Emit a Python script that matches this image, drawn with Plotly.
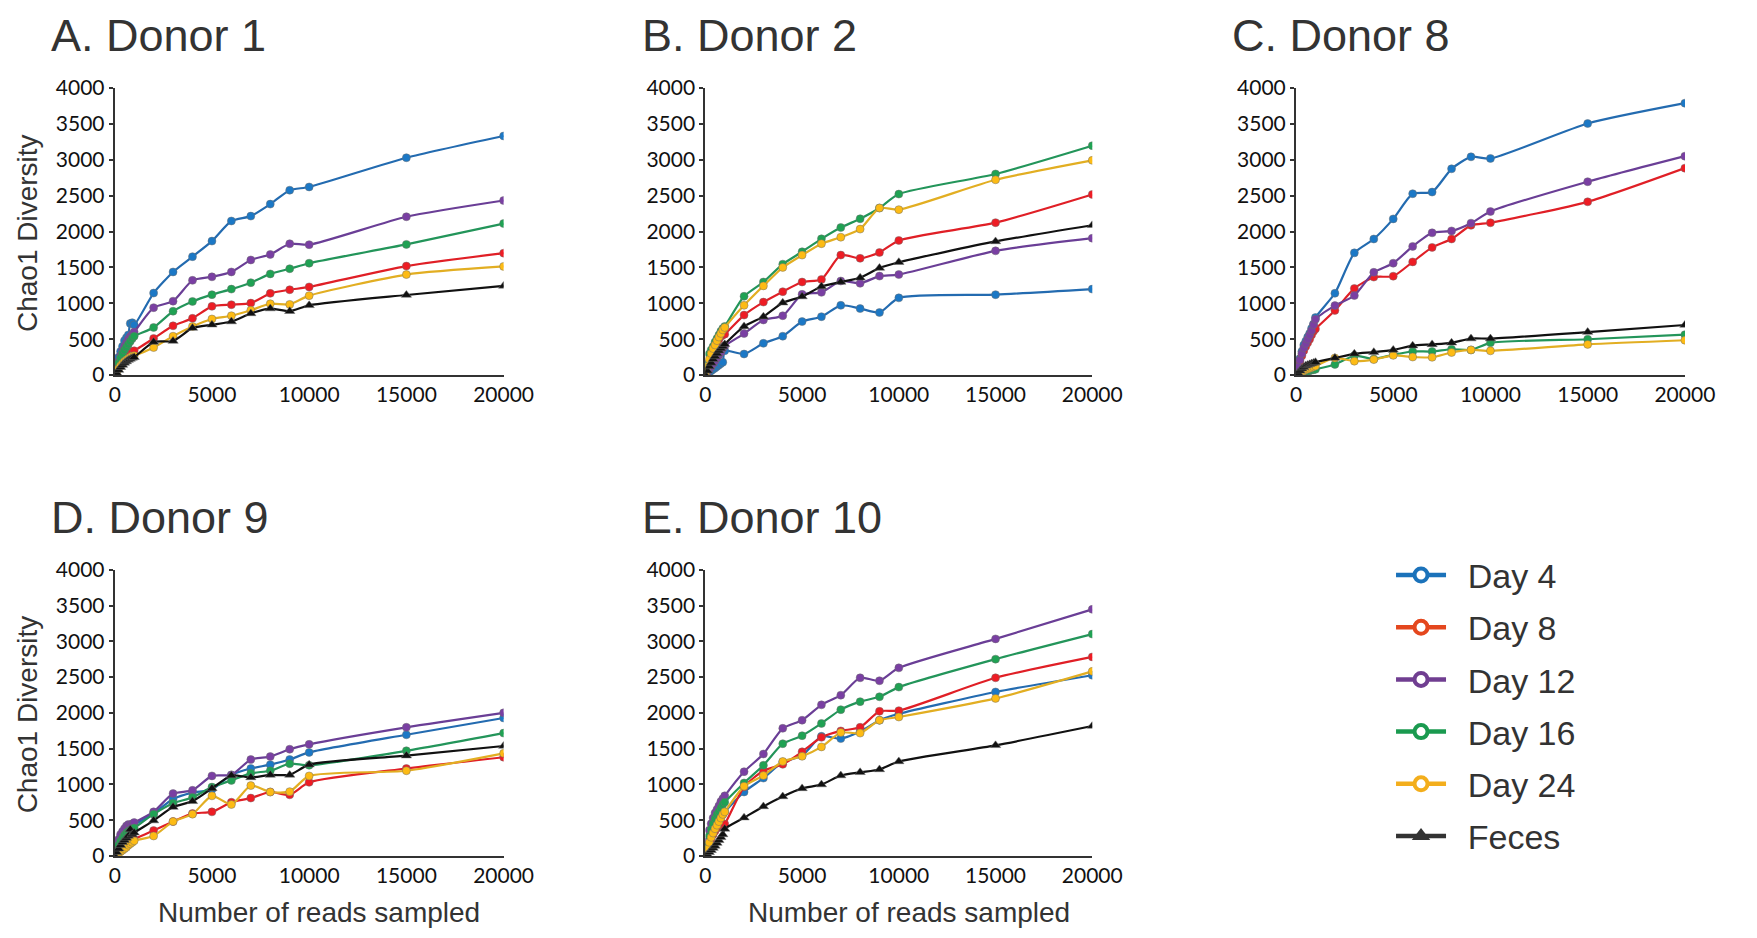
import plotly.graph_objects as go

W, H = 1757, 938

# ---------------- data ----------------
READS = [0, 100, 200, 300, 400, 500, 600, 700, 800, 900, 1000,
         2000, 3000, 4000, 5000, 6000, 7000, 8000, 9000, 10000, 15000, 20000]

SERIES = ["Day 4", "Day 8", "Day 12", "Day 16", "Day 24", "Feces"]

# Donor 1
D1_DAY4 = [0, 140, 250, 330, 400, 480, 520, 560, 720, 730, 700, 1143, 1437, 1650, 1867, 2147, 2215, 2382, 2576, 2621, 3028, 3331]
D1_DAY8 = [0, 60, 110, 160, 200, 240, 270, 290, 310, 330, 339, 511, 687, 791, 958, 981, 1003, 1139, 1189, 1229, 1519, 1699]
D1_DAY12 = [0, 100, 190, 270, 340, 400, 450, 500, 540, 570, 600, 940, 1030, 1320, 1369, 1437, 1604, 1681, 1830, 1817, 2206, 2432]
D1_DAY16 = [0, 90, 170, 240, 300, 350, 390, 430, 470, 510, 542, 664, 890, 1026, 1121, 1198, 1288, 1410, 1482, 1559, 1821, 2111]
D1_DAY24 = [0, 50, 90, 130, 160, 190, 210, 230, 250, 265, 271, 384, 542, 678, 782, 827, 904, 994, 985, 1107, 1401, 1514]
D1_FECES = [0, 30, 70, 110, 140, 170, 190, 210, 225, 240, 249, 461, 475, 655, 701, 746, 859, 927, 890, 972, 1116, 1243]

# Donor 2
D2_DAY4 = [0, 20, 40, 60, 80, 100, 120, 140, 160, 180, 339, 294, 443, 542, 746, 814, 972, 927, 872, 1076, 1121, 1198]
D2_DAY8 = [0, 100, 190, 270, 340, 400, 460, 500, 540, 560, 570, 836, 1017, 1162, 1297, 1333, 1672, 1627, 1708, 1876, 2124, 2517]
D2_DAY12 = [0, 40, 80, 120, 160, 200, 240, 280, 320, 370, 407, 579, 768, 827, 1125, 1153, 1311, 1279, 1379, 1401, 1731, 1907]
D2_DAY16 = [0, 150, 294, 350, 400, 460, 510, 560, 610, 650, 678, 1098, 1297, 1546, 1718, 1898, 2056, 2178, 2328, 2522, 2802, 3196]
D2_DAY24 = [0, 120, 220, 300, 370, 420, 480, 530, 580, 630, 664, 972, 1243, 1500, 1672, 1831, 1921, 2034, 2328, 2305, 2721, 2992]
D2_FECES = [0, 60, 120, 170, 220, 260, 300, 340, 370, 400, 429, 678, 814, 1008, 1094, 1234, 1297, 1356, 1492, 1573, 1862, 2088]

# Donor 8
D8_DAY4 = [0, 120, 230, 330, 420, 473, 530, 580, 650, 712, 802, 1140, 1703, 1896, 2176, 2527, 2550, 2874, 3041, 3018, 3505, 3788]
D8_DAY8 = [0, 100, 190, 270, 340, 400, 450, 500, 560, 610, 644, 901, 1207, 1365, 1378, 1577, 1779, 1896, 2086, 2122, 2414, 2883]
D8_DAY12 = [0, 110, 210, 300, 380, 440, 500, 560, 620, 700, 779, 968, 1108, 1432, 1559, 1793, 1982, 2009, 2117, 2279, 2694, 3050]
D8_DAY16 = [0, 10, 20, 30, 40, 50, 55, 60, 70, 75, 81, 149, 270, 225, 284, 329, 329, 360, 351, 450, 500, 563]
D8_DAY24 = [0, 15, 30, 45, 60, 75, 85, 95, 105, 115, 126, 239, 194, 216, 275, 252, 248, 315, 351, 338, 428, 486]
D8_FECES = [0, 30, 60, 90, 110, 130, 140, 150, 160, 170, 180, 239, 297, 320, 351, 410, 428, 450, 509, 509, 599, 698]

# Donor 9
D9_DAY4 = [0, 100, 190, 260, 310, 350, 380, 400, 410, 420, 436, 593, 796, 885, 930, 1133, 1222, 1276, 1348, 1447, 1694, 1928]
D9_DAY8 = [0, 30, 60, 90, 110, 140, 160, 180, 200, 220, 234, 355, 481, 593, 616, 751, 809, 894, 854, 1029, 1222, 1380]
D9_DAY12 = [0, 120, 230, 300, 340, 380, 420, 440, 430, 450, 467, 616, 872, 917, 1119, 1133, 1348, 1389, 1492, 1560, 1798, 2000]
D9_DAY16 = [0, 80, 150, 210, 250, 290, 320, 340, 360, 375, 391, 584, 737, 818, 962, 1056, 1155, 1191, 1290, 1267, 1470, 1717]
D9_DAY24 = [0, 20, 40, 60, 80, 100, 120, 150, 170, 190, 211, 279, 481, 584, 840, 719, 984, 894, 899, 1119, 1191, 1434]
D9_FECES = [0, 50, 100, 150, 190, 220, 250, 280, 370, 300, 324, 494, 683, 764, 944, 1124, 1097, 1133, 1133, 1276, 1402, 1537]

# Donor 10
D10_DAY4 = [0, 110, 200, 270, 330, 390, 440, 490, 540, 580, 616, 894, 1088, 1312, 1402, 1672, 1640, 1739, 1897, 1987, 2292, 2526]
D10_DAY8 = [0, 90, 170, 240, 300, 350, 390, 420, 440, 430, 445, 966, 1191, 1281, 1456, 1658, 1748, 1798, 2022, 2031, 2490, 2782]
D10_DAY12 = [0, 200, 360, 450, 530, 600, 650, 700, 760, 800, 840, 1178, 1425, 1784, 1897, 2112, 2247, 2490, 2449, 2629, 3034, 3447]
D10_DAY16 = [0, 150, 280, 370, 450, 520, 580, 620, 670, 720, 751, 1020, 1267, 1569, 1681, 1852, 2045, 2157, 2225, 2360, 2751, 3101]
D10_DAY24 = [0, 100, 190, 260, 320, 380, 430, 480, 530, 580, 616, 975, 1124, 1321, 1393, 1524, 1726, 1717, 1897, 1942, 2202, 2580]
D10_FECES = [0, 20, 50, 80, 110, 140, 180, 220, 260, 300, 378, 535, 692, 831, 944, 998, 1124, 1169, 1209, 1321, 1546, 1816]

X_TICKS = [0, 5000, 10000, 15000, 20000]
Y_TICKS = [0, 500, 1000, 1500, 2000, 2500, 3000, 3500, 4000]

PANEL_TITLES = ["A. Donor 1", "B. Donor 2", "C. Donor 8", "D. Donor 9", "E. Donor 10"]
Y_TITLE = "Chao1 Diversity"
X_TITLE = "Number of reads sampled"

PANEL_DATA = [
    [D1_DAY4, D1_DAY8, D1_DAY12, D1_DAY16, D1_DAY24, D1_FECES],
    [D2_DAY4, D2_DAY8, D2_DAY12, D2_DAY16, D2_DAY24, D2_FECES],
    [D8_DAY4, D8_DAY8, D8_DAY12, D8_DAY16, D8_DAY24, D8_FECES],
    [D9_DAY4, D9_DAY8, D9_DAY12, D9_DAY16, D9_DAY24, D9_FECES],
    [D10_DAY4, D10_DAY8, D10_DAY12, D10_DAY16, D10_DAY24, D10_FECES],
]

# ---------------- styles ----------------
LINE_COLORS = ["#236BB0", "#E01F26", "#6A3E96", "#23955A", "#E2AE22", "#111111"]
MARK_COLORS = ["#1B78C6", "#EE1C24", "#7A3FA3", "#1FA253", "#FDBB14", "#111111"]
LEG_COLORS = ["#1B72BA", "#E4471E", "#703E91", "#1A9A4F", "#F3AE1C", "#333333"]

TITLE_FONT = "Liberation Sans, Arial, sans-serif"
TICK_FONT = "Lato, Carlito, sans-serif"
LEG_PAD = '<span style="font-size:30px">&nbsp;&nbsp;</span>'


def px_x(v):
    return v / W


def px_y(v):
    return 1 - v / H


# panel boxes in pixels: (left, right, top, bottom)
COLS = [(111, 508), (714, 1109), (1317, 1714)]
ROWS = [(76, 371), (571, 865)]
BOXES = [(COLS[0], ROWS[0]), (COLS[1], ROWS[0]), (COLS[2], ROWS[0]),
         (COLS[0], ROWS[1]), (COLS[1], ROWS[1])]

fig = go.Figure()
layout = dict(
    width=W, height=H,
    margin=dict(l=0, r=0, t=0, b=0),
    paper_bgcolor="white", plot_bgcolor="white",
    showlegend=True,
)

annotations = []
for i, ((xl, xr), (yt, yb)) in enumerate(BOXES):
    n = i + 1
    xa = "xaxis" if n == 1 else f"xaxis{n}"
    ya = "yaxis" if n == 1 else f"yaxis{n}"
    xref = "x" if n == 1 else f"x{n}"
    yref = "y" if n == 1 else f"y{n}"
    layout[xa] = dict(
        domain=[px_x(xl), px_x(xr)], anchor=yref, range=[0, 20000],
        tickvals=X_TICKS, ticktext=[str(v) for v in X_TICKS],
        showline=True, linecolor="#333333", linewidth=2,
        ticks="", showgrid=False, zeroline=False,
        tickfont=dict(family=TICK_FONT, size=21, color="#111111"),
    )
    layout[ya] = dict(
        domain=[px_y(yb), px_y(yt)], anchor=xref, range=[0, 4000],
        tickvals=Y_TICKS, ticktext=[str(v) for v in Y_TICKS],
        showline=True, linecolor="#333333", linewidth=2,
        ticks="outside", ticklen=4, tickcolor="#333333", tickwidth=1.5,
        showgrid=False, zeroline=False,
        tickfont=dict(family=TICK_FONT, size=21, color="#111111"),
    )
    for s, vals in enumerate(PANEL_DATA[i]):
        is_feces = SERIES[s] == "Feces"
        fig.add_trace(go.Scatter(
            x=READS, y=vals, xaxis=xref, yaxis=yref,
            mode="lines+markers", name=SERIES[s], showlegend=False,
            line=dict(color=LINE_COLORS[s], width=2.2, shape="spline", smoothing=0.6),
            marker=dict(
                symbol="triangle-up" if is_feces else "circle",
                size=9 if is_feces else 8,
                color=MARK_COLORS[s],
                line=dict(width=0.6, color="rgba(110,110,110,0.8)"),
            ),
            hoverinfo="skip",
        ))
    annotations.append(dict(
        text=PANEL_TITLES[i], xref="paper", yref="paper",
        x=px_x(xl - 67), y=px_y(yt - 54), xanchor="left", yanchor="middle",
        showarrow=False, font=dict(family=TITLE_FONT, size=45, color="#333333"),
    ))
    if xl == COLS[0][0]:
        annotations.append(dict(
            text=Y_TITLE, xref="paper", yref="paper",
            x=px_x(22), y=px_y((yt + yb) / 2 + 2), xanchor="center", yanchor="middle",
            textangle=-90, showarrow=False,
            font=dict(family=TITLE_FONT, size=28, color="#333333"),
        ))
    if yt == ROWS[1][0]:
        annotations.append(dict(
            text=X_TITLE, xref="paper", yref="paper",
            x=px_x((xl + xr) / 2 + 10), y=px_y(923), xanchor="center", yanchor="middle",
            showarrow=False, font=dict(family=TITLE_FONT, size=28, color="#333333"),
        ))

# legend entries
for s, name in enumerate(SERIES):
    is_feces = name == "Feces"
    fig.add_trace(go.Scatter(
        x=[None], y=[None], mode="lines+markers", name=LEG_PAD + name,
        legendgroup=name, showlegend=True,
        line=dict(color=LEG_COLORS[s], width=4.5),
        marker=dict(
            symbol="triangle-up" if is_feces else "circle",
            size=16 if is_feces else 13,
            color=LEG_COLORS[s] if is_feces else "white",
            line=dict(width=4 if not is_feces else 0, color=LEG_COLORS[s]),
        ),
    ))

layout["annotations"] = annotations
layout["legend"] = dict(
    x=px_x(1414), y=px_y(547), xanchor="left", yanchor="top",
    font=dict(family=TITLE_FONT, size=34, color="#333333"),
    traceorder="grouped", tracegroupgap=5, itemwidth=50,
    bgcolor="rgba(0,0,0,0)",
)
fig.update_layout(**layout)
fig.write_html("out.html")
